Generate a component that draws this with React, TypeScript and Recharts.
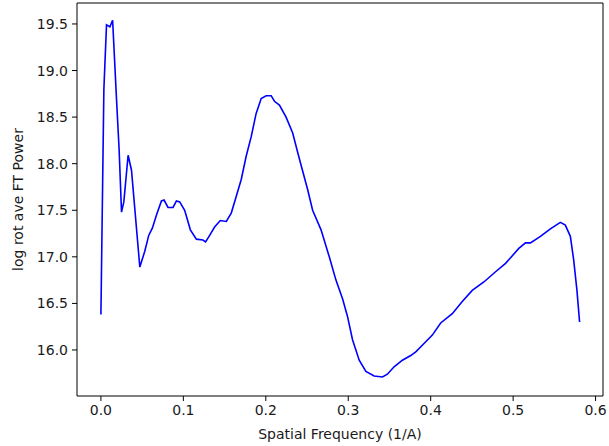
import { LineChart, Line, XAxis, YAxis, Label, ReferenceLine } from 'recharts';

// spatial frequency (1/A)
const freq = [
  0.0, 0.0036, 0.0068, 0.0109, 0.0142, 0.019, 0.0221, 0.025, 0.0278, 0.033,
  0.0371, 0.0472, 0.0532, 0.058, 0.0625, 0.0674, 0.0734, 0.0766, 0.0814, 0.0875,
  0.0916, 0.0956, 0.1016, 0.1085, 0.1158, 0.1237, 0.127, 0.1319, 0.1379, 0.1448,
  0.1521, 0.1581, 0.1642, 0.1702, 0.1762, 0.1823, 0.1883, 0.1944, 0.2004, 0.2065,
  0.2105, 0.2165, 0.2246, 0.2326, 0.2399, 0.2508, 0.2568, 0.267, 0.277, 0.2851,
  0.2931, 0.2991, 0.3052, 0.3133, 0.3214, 0.3314, 0.3415, 0.3475, 0.3556, 0.3657,
  0.3758, 0.3819, 0.3919, 0.402, 0.4121, 0.4262, 0.4383, 0.4504, 0.4645, 0.4787,
  0.4908, 0.5069, 0.515, 0.521, 0.5331, 0.5452, 0.5573, 0.5633, 0.5694, 0.5734,
  0.5774, 0.5806,
];

// log rotational average FT power
const power = [
  16.38, 18.8, 19.49, 19.47, 19.54, 18.68, 18.15, 17.48, 17.59, 18.09,
  17.93, 16.89, 17.06, 17.23, 17.31, 17.45, 17.6, 17.61, 17.53, 17.53,
  17.6, 17.59, 17.5, 17.29, 17.19, 17.18, 17.16, 17.23, 17.32, 17.39,
  17.38, 17.47, 17.65, 17.83, 18.08, 18.29, 18.54, 18.7, 18.73, 18.73,
  18.67, 18.63, 18.5, 18.33, 18.08, 17.72, 17.5, 17.29, 17.0, 16.75,
  16.55, 16.36, 16.11, 15.89, 15.77, 15.72, 15.71, 15.74, 15.82, 15.89,
  15.94, 15.98, 16.07, 16.16, 16.29, 16.39, 16.52, 16.64, 16.73, 16.84,
  16.93, 17.09, 17.15, 17.15, 17.22, 17.3, 17.37, 17.34, 17.22, 16.97,
  16.64, 16.3,
];

const xTicks = [0, 0.1, 0.2, 0.3, 0.4, 0.5, 0.6];
const yTicks = [16.0, 16.5, 17.0, 17.5, 18.0, 18.5, 19.0, 19.5];
const xDomain = [-0.029, 0.609];
const yDomain = [15.506, 19.725];

const data = freq.map((f, i) => ({ f, p: power[i] }));

const font = { fontFamily: 'DejaVu Sans', fontSize: 14, fill: '#1a1a1a' };

export default function App() {
  return (
    <div style={{ position: 'absolute', left: 0, top: 0, background: '#fff' }}>
      <LineChart
        width={609}
        height={446}
        data={data}
        margin={{ top: 3, right: 6, bottom: 0, left: 0 }}
      >
        <XAxis
          dataKey="f"
          type="number"
          domain={xDomain}
          ticks={xTicks}
          allowDataOverflow
          tickFormatter={(v: number) => v.toFixed(1)}
          height={50}
          tickSize={5}
          tickMargin={4}
          stroke="#000"
          tick={font}
        >
          <Label
            value="Spatial Frequency (1/A)"
            position="insideBottom"
            offset={7}
            style={font}
          />
        </XAxis>
        <YAxis
          type="number"
          domain={yDomain}
          ticks={yTicks}
          allowDataOverflow
          tickFormatter={(v: number) => v.toFixed(1)}
          width={77}
          tickSize={5}
          tickMargin={4}
          stroke="#000"
          tick={font}
        >
          <Label
            value="log rot ave FT Power"
            angle={-90}
            position="insideLeft"
            offset={18}
            style={{ ...font, textAnchor: 'middle' }}
          />
        </YAxis>
        <ReferenceLine y={yDomain[1]} stroke="#000" ifOverflow="visible" />
        <ReferenceLine x={xDomain[1]} stroke="#000" ifOverflow="visible" />
        <Line
          type="linear"
          dataKey="p"
          stroke="#0000ff"
          strokeWidth={1.6}
          dot={false}
          isAnimationActive={false}
        />
      </LineChart>
    </div>
  );
}
